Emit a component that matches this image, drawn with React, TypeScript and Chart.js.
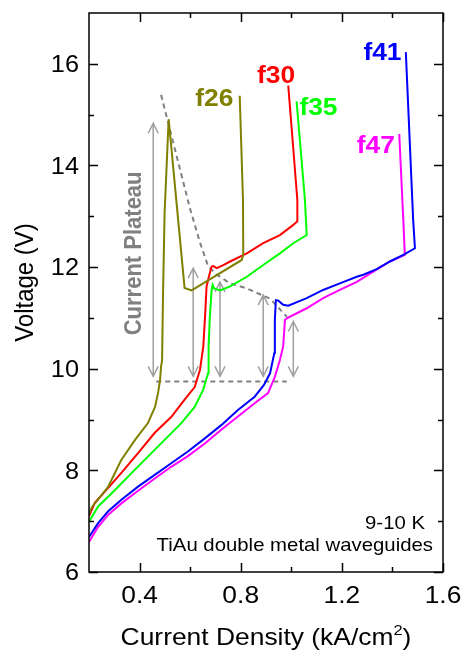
import React, { useEffect, useRef } from "react";
import { Chart, registerables } from "chart.js";

Chart.register(...registerables);

// ---------------- data ----------------
const seriesNames = ["f26", "f30", "f35", "f41", "f47"];

const f26X = [0.2, 0.212, 0.275, 0.327, 0.382, 0.433, 0.461, 0.473, 0.481, 0.485, 0.489, 0.493, 0.499, 0.515, 0.578, 0.606, 0.804, 0.81, 0.809, 0.796];
const f26Y = [7.15, 7.28, 7.67, 8.2, 8.6, 8.93, 9.25, 9.52, 9.78, 10.04, 10.17, 11.55, 13.07, 14.91, 11.59, 11.54, 12.14, 12.24, 13.32, 15.37];

const f30X = [0.2, 0.223, 0.275, 0.328, 0.394, 0.46, 0.525, 0.578, 0.618, 0.639, 0.652, 0.659, 0.665, 0.676, 0.685, 0.692, 0.705, 0.731, 0.758, 0.824, 0.889, 0.955, 1.008, 1.024, 1.024, 0.988];
const f30Y = [7.1, 7.36, 7.65, 7.95, 8.34, 8.74, 9.05, 9.39, 9.64, 9.98, 10.44, 11.03, 11.62, 11.85, 12.01, 12.02, 11.98, 12.04, 12.11, 12.27, 12.47, 12.63, 12.83, 12.9, 13.32, 15.57];

const f35X = [0.2, 0.236, 0.302, 0.367, 0.433, 0.499, 0.565, 0.618, 0.651, 0.671, 0.673, 0.678, 0.685, 0.689, 0.695, 0.718, 0.758, 0.824, 0.889, 0.955, 1.008, 1.061, 1.054, 1.021];
const f35Y = [6.99, 7.29, 7.61, 7.94, 8.27, 8.6, 8.93, 9.25, 9.58, 9.91, 10.44, 11.03, 11.55, 11.65, 11.58, 11.54, 11.62, 11.81, 12.04, 12.27, 12.47, 12.63, 13.32, 15.26];

const f41X = [0.2, 0.236, 0.275, 0.328, 0.394, 0.46, 0.525, 0.591, 0.658, 0.723, 0.789, 0.855, 0.892, 0.916, 0.933, 0.935, 0.939, 0.949, 0.968, 0.988, 1.061, 1.126, 1.192, 1.259, 1.285, 1.338, 1.39, 1.443, 1.489, 1.482, 1.453];
const f41Y = [6.69, 6.96, 7.19, 7.42, 7.68, 7.91, 8.14, 8.37, 8.63, 8.89, 9.19, 9.45, 9.68, 9.91, 10.31, 10.96, 11.35, 11.34, 11.26, 11.24, 11.39, 11.55, 11.68, 11.81, 11.85, 11.96, 12.11, 12.24, 12.37, 12.93, 16.23];

const f47X = [0.2, 0.236, 0.275, 0.328, 0.394, 0.46, 0.525, 0.591, 0.658, 0.723, 0.789, 0.855, 0.908, 0.935, 0.955, 0.968, 0.975, 0.982, 1.061, 1.126, 1.192, 1.259, 1.324, 1.39, 1.449, 1.443, 1.427];
const f47Y = [6.59, 6.89, 7.12, 7.35, 7.6, 7.84, 8.07, 8.28, 8.53, 8.8, 9.06, 9.32, 9.52, 9.84, 10.17, 10.44, 10.96, 10.99, 11.19, 11.39, 11.55, 11.71, 11.91, 12.11, 12.24, 12.93, 14.62];

// plateau guide lines
const plateauEdgeX = [0.485, 0.599, 0.639, 0.671, 0.705, 0.758, 0.824, 0.916, 0.983];
const plateauEdgeY = [15.39, 13.16, 12.48, 12.02, 11.85, 11.68, 11.58, 11.38, 11.02];
const plateauBaseX = [0.466, 0.982];
const plateauBaseY = [9.75, 9.75];

// double-headed plateau arrows
const arrowX = [0.454, 0.612, 0.718, 0.889, 1.008];
const arrowTop = [14.83, 11.98, 11.71, 11.45, 10.93];
const arrowBottom = [9.85, 9.85, 9.85, 9.85, 9.85];

// axes
const xMin = 0.2, xMax = 1.6, yMin = 6, yMax = 17;
const xMajorTicks = [0.4, 0.8, 1.2, 1.6];
const xMinorTicks = [0.6, 1.0, 1.4];
const xTickLabels = ["0.4", "0.8", "1.2", "1.6"];
const yMajorTicks = [6, 8, 10, 12, 14, 16];
const yMinorTicks = [7, 9, 11, 13, 15];
const yTickLabels = ["6", "8", "10", "12", "14", "16"];

const xTitle = "Current Density (kA/cm";
const xTitleSup = "2";
const yTitle = "Voltage (V)";
const plateauText = "Current Plateau";
const noteTemp = "9-10 K";
const noteGuide = "TiAu double metal waveguides";

// ---------------- styles ----------------
const seriesColors = ["#808000", "#ff0000", "#00ff00", "#0000ff", "#ff00ff"];
const FONT = '"Liberation Sans", Arial, sans-serif';
const SX = 1.1; // horizontal stretch of the reference text
// label anchors (data coords) and alignment for the curve names
const labelAnchorX = [0.771, 1.015, 1.032, 1.436, 1.41];
const labelAnchorY = [15.17, 15.63, 15.0, 16.08, 14.25];
const labelAlign: CanvasTextAlign[] = ["right", "right", "left", "right", "right"];

function txt(ctx: CanvasRenderingContext2D, s: string, x: number, y: number, font: string, color: string, align: CanvasTextAlign, rot = false) {
  ctx.save();
  ctx.translate(x, y);
  ctx.scale(SX, 1);
  if (rot) ctx.rotate(-Math.PI / 2);
  ctx.font = font;
  ctx.fillStyle = color;
  ctx.textAlign = align;
  ctx.textBaseline = "alphabetic";
  ctx.fillText(s, 0, 0);
  ctx.restore();
}

const arrowsPlugin = {
  id: "plateauArrows",
  beforeDatasetsDraw(chart: any) {
    const ctx: CanvasRenderingContext2D = chart.ctx;
    const xs = chart.scales.x, ys = chart.scales.y;
    ctx.save();
    ctx.strokeStyle = "#a0a0a0";
    ctx.lineWidth = 1.5;
    arrowX.forEach((v, i) => {
      const px = xs.getPixelForValue(v);
      const t = ys.getPixelForValue(arrowTop[i]);
      const b = ys.getPixelForValue(arrowBottom[i]);
      ctx.beginPath();
      ctx.moveTo(px, t);
      ctx.lineTo(px, b);
      ctx.moveTo(px - 5, t + 10);
      ctx.lineTo(px, t);
      ctx.lineTo(px + 5, t + 10);
      ctx.moveTo(px - 5, b - 10);
      ctx.lineTo(px, b);
      ctx.lineTo(px + 5, b - 10);
      ctx.stroke();
    });
    ctx.restore();
  },
};

const framePlugin = {
  id: "frameAndText",
  afterDraw(chart: any) {
    const ctx: CanvasRenderingContext2D = chart.ctx;
    const { left, right, top, bottom } = chart.chartArea;
    const xs = chart.scales.x, ys = chart.scales.y;
    ctx.save();
    ctx.strokeStyle = "#000";
    ctx.lineWidth = 1.5;
    ctx.strokeRect(left, top, right - left, bottom - top);
    ctx.beginPath();
    const xt = (v: number, len: number) => {
      const px = Math.round(xs.getPixelForValue(v)) + 0.5;
      ctx.moveTo(px, bottom); ctx.lineTo(px, bottom - len);
      ctx.moveTo(px, top); ctx.lineTo(px, top + len);
    };
    const yt = (v: number, len: number) => {
      const py = Math.round(ys.getPixelForValue(v)) + 0.5;
      ctx.moveTo(left, py); ctx.lineTo(left + len, py);
      ctx.moveTo(right, py); ctx.lineTo(right - len, py);
    };
    xMajorTicks.forEach((v) => xt(v, 9));
    xMinorTicks.forEach((v) => xt(v, 5));
    yMajorTicks.forEach((v) => yt(v, 9));
    yMinorTicks.forEach((v) => yt(v, 5));
    ctx.stroke();
    ctx.restore();

    // tick labels
    xMajorTicks.forEach((v, i) => {
      txt(ctx, xTickLabels[i], xs.getPixelForValue(v), bottom + 31, `24px ${FONT}`, "#000", "center");
    });
    yMajorTicks.forEach((v, i) => {
      txt(ctx, yTickLabels[i], left - 10, ys.getPixelForValue(v) + 8.3, `23px ${FONT}`, "#000", "right");
    });

    // x title with superscript
    ctx.save();
    ctx.font = `24px ${FONT}`;
    const w1 = ctx.measureText(xTitle).width;
    const w3 = ctx.measureText(")").width;
    ctx.font = `15px ${FONT}`;
    const w2 = ctx.measureText(xTitleSup).width;
    ctx.restore();
    const total = (w1 + w2 + w3) * SX;
    let sx0 = (left + right) / 2 - total / 2;
    const base = bottom + 73;
    txt(ctx, xTitle, sx0, base, `24px ${FONT}`, "#000", "left");
    sx0 += w1 * SX;
    txt(ctx, xTitleSup, sx0, base - 10, `15px ${FONT}`, "#000", "left");
    sx0 += w2 * SX;
    txt(ctx, ")", sx0, base, `24px ${FONT}`, "#000", "left");

    // y title
    txt(ctx, yTitle, 33, (top + bottom) / 2 - 10, `24px ${FONT}`, "#000", "center", true);

    // curve names
    seriesNames.forEach((n, i) => {
      txt(ctx, n, xs.getPixelForValue(labelAnchorX[i]), ys.getPixelForValue(labelAnchorY[i]), `bold 24px ${FONT}`, seriesColors[i], labelAlign[i]);
    });

    // plateau label
    txt(ctx, plateauText, xs.getPixelForValue(0.4076), ys.getPixelForValue(12.27), `bold 22px ${FONT}`, "#808080", "center", true);

    // notes
    txt(ctx, noteTemp, right - 18, bottom - 43, `18.5px ${FONT}`, "#000", "right");
    txt(ctx, noteGuide, right - 10, bottom - 21, `18.5px ${FONT}`, "#000", "right");
  },
};

function pts(xs: number[], ys: number[]) {
  return xs.map((x, i) => ({ x, y: ys[i] }));
}

export default function App() {
  const ref = useRef<HTMLCanvasElement | null>(null);
  useEffect(() => {
    if (!ref.current) return;
    const seriesX = [f26X, f30X, f35X, f41X, f47X];
    const seriesY = [f26Y, f30Y, f35Y, f41Y, f47Y];
    const curveSets = seriesNames.map((n, i) => ({
      label: n,
      data: pts(seriesX[i], seriesY[i]),
      showLine: true,
      borderColor: seriesColors[i],
      backgroundColor: seriesColors[i],
      borderWidth: 2,
      pointRadius: 0,
      tension: 0,
      fill: false,
    }));
    const guideSets = [
      { label: "edge", data: pts(plateauEdgeX, plateauEdgeY) },
      { label: "base", data: pts(plateauBaseX, plateauBaseY) },
    ].map((d) => ({
      ...d,
      showLine: true,
      borderColor: "#808080",
      borderWidth: 2,
      borderDash: [5, 4],
      pointRadius: 0,
      tension: 0,
      fill: false,
    }));
    const chart = new Chart(ref.current, {
      type: "scatter",
      data: { datasets: [...curveSets, ...guideSets] as any },
      options: {
        animation: false,
        responsive: false,
        maintainAspectRatio: false,
        devicePixelRatio: 1,
        layout: { padding: { left: 89, right: 19, top: 13, bottom: 79 } },
        plugins: { legend: { display: false }, tooltip: { enabled: false } },
        scales: {
          x: { type: "linear", min: xMin, max: xMax, display: false },
          y: { type: "linear", min: yMin, max: yMax, display: false },
        },
      },
      plugins: [arrowsPlugin, framePlugin],
    });
    return () => chart.destroy();
  }, []);
  return (
    <div style={{ position: "fixed", left: 0, top: 0, width: 462, height: 651, background: "#fff" }}>
      <canvas ref={ref} width={462} height={651} style={{ display: "block" }} />
    </div>
  );
}
